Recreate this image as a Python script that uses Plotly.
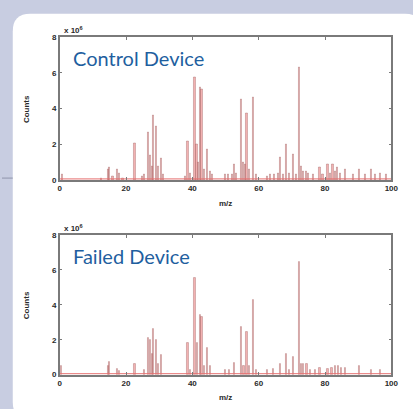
import plotly.graph_objects as go

# ---------------- data ----------------
control_mz = [0.7, 12.5, 14.5, 15.0, 16.0, 17.4, 18.0, 19.0, 22.6, 24.8, 25.6, 26.6, 27.2, 27.8,
              28.2, 29.0, 29.6, 30.6, 31.2, 37.9, 38.6, 39.3, 40.7, 41.3, 41.8, 42.3, 42.8, 43.5,
              44.6, 45.4, 46.0, 50.0, 50.8, 52.0, 52.5, 53.2, 54.8, 55.4, 56.0, 56.4, 57.2, 58.4,
              59.2, 62.5, 63.5, 64.6, 65.8, 66.6, 67.4, 68.2, 69.2, 70.5, 71.3, 72.2, 72.8, 73.5,
              74.3, 75.0, 76.5, 78.4, 79.3, 80.8, 81.6, 82.3, 83.0, 83.8, 84.6, 86.2, 88.5, 90.2,
              92.0, 94.0, 95.2, 96.6, 98.5]
control_counts = [0.3, 0.1, 0.6, 0.7, 0.2, 0.6, 0.4, 0.1, 2.05, 0.2, 0.3, 2.7, 1.4, 0.8,
                  3.65, 3.0, 0.8, 1.2, 0.3, 0.2, 2.15, 0.4, 5.75, 2.0, 1.0, 5.2, 5.1, 0.6,
                  1.7, 0.5, 0.3, 0.3, 0.3, 0.3, 0.9, 0.4, 4.5, 1.0, 0.9, 3.75, 0.6, 4.65,
                  0.3, 0.2, 0.3, 0.3, 0.4, 1.3, 0.3, 2.0, 0.4, 1.45, 0.3, 6.3, 0.8, 0.5,
                  0.5, 0.4, 0.3, 0.7, 0.3, 0.9, 0.4, 0.9, 0.5, 0.7, 0.4, 0.6, 0.3, 0.6,
                  0.3, 0.6, 0.3, 0.4, 0.3]

failed_mz = [0.5, 14.5, 15.0, 17.4, 18.0, 22.6, 25.4, 26.6, 27.2, 27.8, 28.2, 29.0, 29.6, 30.6,
             38.6, 39.3, 40.7, 41.5, 42.3, 42.8, 43.5, 44.6, 45.4, 50.0, 51.0, 52.5, 54.8, 55.5,
             56.4, 57.2, 58.4, 59.2, 62.5, 64.5, 66.6, 68.2, 69.2, 70.5, 72.2, 72.8, 73.5, 74.5,
             75.5, 77.0, 78.4, 80.8, 82.0, 83.0, 84.0, 85.0, 86.2, 90.2, 94.0, 96.6]
failed_counts = [0.5, 0.5, 0.73, 0.35, 0.2, 0.6, 0.3, 2.1, 2.0, 1.2, 2.6, 2.0, 0.6, 1.15,
                 1.8, 0.3, 5.55, 1.8, 3.4, 3.3, 0.5, 1.55, 0.5, 0.3, 0.3, 0.7, 2.75, 0.5,
                 2.45, 0.5, 4.3, 0.3, 0.3, 0.35, 0.6, 1.2, 0.3, 1.05, 6.45, 0.6, 0.6, 0.6,
                 0.3, 0.3, 0.4, 0.35, 0.4, 0.5, 0.5, 0.4, 0.4, 0.5, 0.3, 0.3]

baseline_mz = [0, 100]
baseline_level = [0.06, 0.06]

x_ticks = [0, 20, 40, 60, 80, 100]
y_ticks = [0, 2, 4, 6, 8]
panel_titles = ["Control Device", "Failed Device"]
x_title = "m/z"
y_title = "Counts"
exponent_label = "x 10<sup>6</sup>"

# ---------------- figure ----------------
W, H = 413, 409
def px(x):
    return x / W
def py(y):
    return 1 - y / H

fig = go.Figure()

bar_fill = "rgba(236,128,128,0.6)"
bar_edge = "rgba(150,85,85,0.7)"

for i, (mz, cnt) in enumerate([(control_mz, control_counts), (failed_mz, failed_counts)]):
    xa = "x" if i == 0 else "x2"
    ya = "y" if i == 0 else "y2"
    fig.add_trace(go.Scatter(x=baseline_mz, y=baseline_level, mode="lines",
                             line=dict(color="rgba(230,110,110,0.8)", width=1.2),
                             xaxis=xa, yaxis=ya, showlegend=False, hoverinfo="skip"))
    fig.add_trace(go.Bar(x=mz, y=cnt, width=0.35,
                         marker=dict(color=bar_fill, line=dict(color=bar_edge, width=0.5)),
                         xaxis=xa, yaxis=ya, showlegend=False))

tickfont = dict(family="Liberation Sans", size=8, color="#2a2a2a", weight="bold")
axis_common = dict(showline=True, linecolor="#7a7a7a", linewidth=1.5, mirror="ticks",
                   ticks="inside", ticklen=3, tickcolor="#7a7a7a", tickwidth=1,
                   showgrid=False, zeroline=False, tickfont=tickfont)

xdom = [px(59), px(398)]
top_dom = [py(180), py(34)]
bot_dom = [py(379), py(236)]

fig.update_layout(
    width=W, height=H,
    margin=dict(l=0, r=0, t=0, b=0),
    paper_bgcolor="#c8cde1",
    plot_bgcolor="white",
    bargap=0,
    xaxis=dict(domain=xdom, range=[0, 100], tickvals=x_ticks, anchor="y", **axis_common),
    yaxis=dict(domain=top_dom, range=[0, 8], tickvals=y_ticks, anchor="x", **axis_common),
    xaxis2=dict(domain=xdom, range=[0, 100], tickvals=x_ticks, anchor="y2", **axis_common),
    yaxis2=dict(domain=bot_dom, range=[0, 8], tickvals=y_ticks, anchor="x2", **axis_common),
)

# white rounded panel
L, T, R, B, rad = 11, 10, 430, 425, 18
rx, ry = rad / W, rad / H
path = (f"M {px(L)+rx},{py(T)} L {px(R)-rx},{py(T)} Q {px(R)},{py(T)} {px(R)},{py(T)-ry} "
        f"L {px(R)},{py(B)+ry} Q {px(R)},{py(B)} {px(R)-rx},{py(B)} "
        f"L {px(L)+rx},{py(B)} Q {px(L)},{py(B)} {px(L)},{py(B)+ry} "
        f"L {px(L)},{py(T)-ry} Q {px(L)},{py(T)} {px(L)+rx},{py(T)} Z")
fig.add_shape(type="path", path=path, xref="paper", yref="paper",
              fillcolor="white", line=dict(width=0), layer="below")
fig.add_shape(type="line", xref="paper", yref="paper", x0=0, x1=px(11), y0=py(178), y1=py(178),
              line=dict(color="#8f95ad", width=1), layer="below")

lblfont = dict(family="Liberation Sans", size=8, color="#2a2a2a", weight="bold")
ann = []
for i, (title, dom) in enumerate(zip(panel_titles, [top_dom, bot_dom])):
    top_y = dom[1]
    ann.append(dict(text=title, xref="paper", yref="paper", x=px(71), y=top_y - 7 / H,
                    xanchor="left", yanchor="top", showarrow=False,
                    font=dict(family="Lato", size=20, color="#1f5f9f")))
    ann.append(dict(text=exponent_label, xref="paper", yref="paper", x=px(61), y=top_y,
                    xanchor="left", yanchor="bottom", showarrow=False, font=lblfont))
    ann.append(dict(text=x_title, xref="paper", yref="paper", x=px(228), y=dom[0] - 17 / H,
                    xanchor="center", yanchor="top", showarrow=False, font=lblfont))
    ann.append(dict(text=y_title, xref="paper", yref="paper", x=px(25), y=(dom[0] + dom[1]) / 2,
                    xanchor="center", yanchor="middle", textangle=-90, showarrow=False, font=lblfont))
fig.update_layout(annotations=ann)

fig.write_html("out.html", config={"displayModeBar": False},
               post_script="document.body.style.margin='0';document.body.style.overflow='hidden';")
